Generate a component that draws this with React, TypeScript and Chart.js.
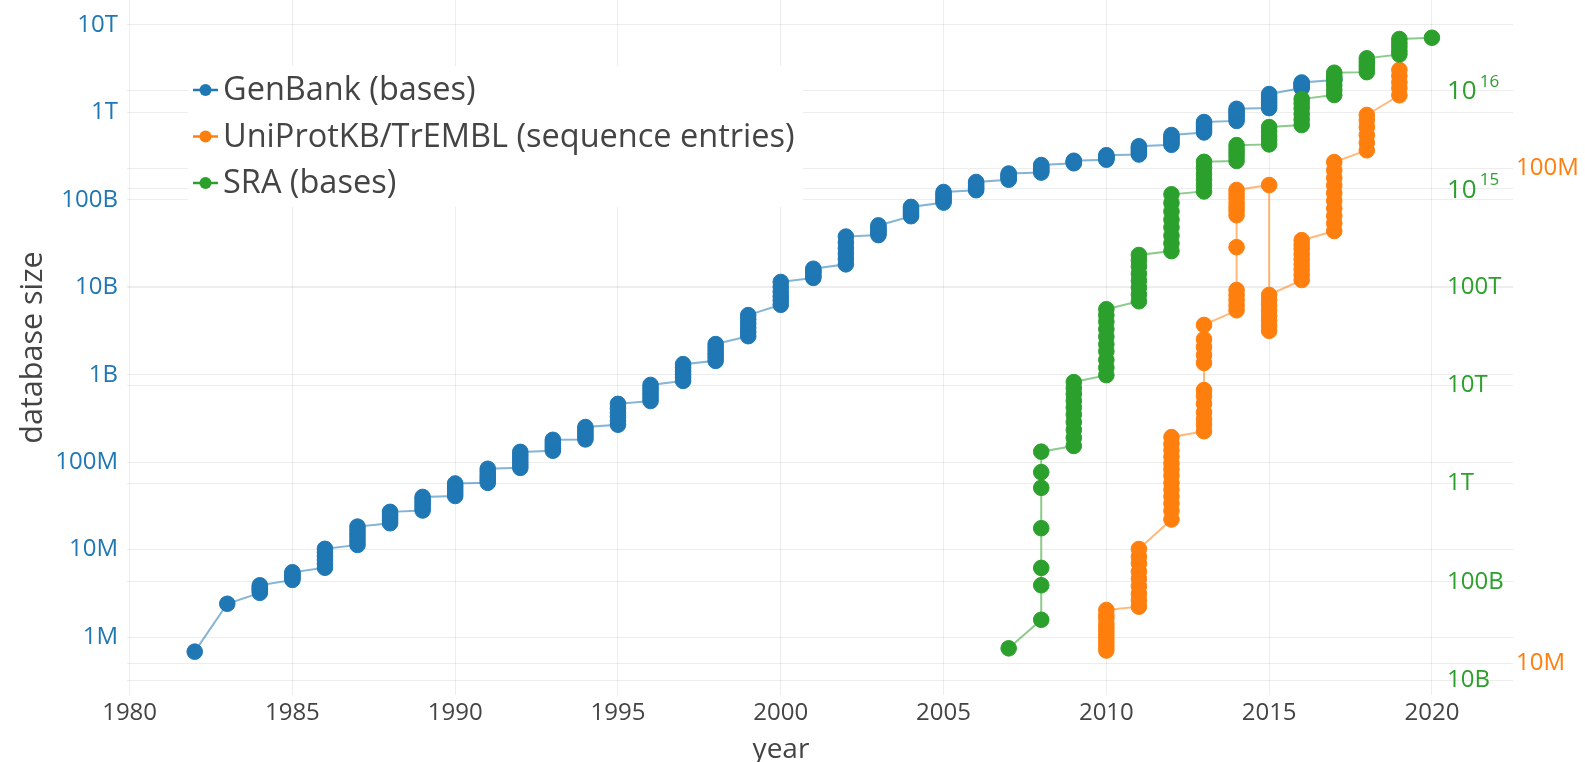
import React, { useEffect, useRef } from "react";
import { Chart, registerables } from "chart.js";

Chart.register(...registerables);

const FONT = "'Open Sans', 'DejaVu Sans', sans-serif";
const BLUE = "#1f77b4";
const ORANGE = "#ff7f0e";
const GREEN = "#2ca02c";
const TEXT = "#444444";
const GRID = "rgba(0,0,0,0.07)";

// ---- axis ticks ----
const xTickValues = [1980, 1985, 1990, 1995, 2000, 2005, 2010, 2015, 2020];
const genbankTickValues = [1e6, 1e7, 1e8, 1e9, 1e10, 1e11, 1e12, 1e13];
const genbankTickLabels = ["1M", "10M", "100M", "1B", "10B", "100B", "1T", "10T"];
const sraTickValues = [1e10, 1e11, 1e12, 1e13, 1e14, 1e15, 1e16];
const sraTickLabels = ["10B", "100B", "1T", "10T", "100T", "10^15", "10^16"];
const uniprotTickValues = [1e7, 1e8];
const uniprotTickLabels = ["10M", "100M"];

// ---- axis ranges ----
const X_MIN = 1979.92;
const X_MAX = 2022.49;
const GENBANK_MIN = 2.171e5;
const GENBANK_MAX = 1.931e13;
const SRA_MIN = 7.04e9;
const SRA_MAX = 8.23e16;
const UNIPROT_MIN = 8.62e6;
const UNIPROT_MAX = 2.185e8;

// ---- series ----
const seriesNames = ["GenBank (bases)", "UniProtKB/TrEMBL (sequence entries)", "SRA (bases)"];

const genbankYears = [
  1982, 1983, 1984, 1985, 1986, 1987, 1988, 1989, 1990, 1991, 1992, 1993,
  1994, 1995, 1996, 1997, 1998, 1999, 2000, 2001, 2002, 2003, 2004, 2005,
  2006, 2007, 2008, 2009, 2010, 2011, 2012, 2013, 2014, 2015, 2016, 2017,
];
const genbankValues = [
  [6.8e5],
  [2.4e6],
  [3.2e6, 3.35e6, 3.5e6, 3.6e6, 3.75e6, 3.9e6],
  [4.5e6, 4.7e6, 4.9e6, 5.1e6, 5.3e6, 5.5e6],
  [6.2e6, 6.9e6, 7.6e6, 8.4e6, 9.3e6, 10.2e6],
  [11.3e6, 12.4e6, 13.7e6, 15.1e6, 16.6e6, 18.3e6],
  [20e6, 21.3e6, 22.6e6, 24e6, 25.5e6, 27e6],
  [28e6, 30e6, 32.3e6, 34.8e6, 37.3e6, 40e6],
  [41e6, 43.8e6, 46.8e6, 50e6, 53.4e6, 57e6],
  [58e6, 62e6, 66.5e6, 71.5e6, 77.5e6, 84e6],
  [86e6, 93e6, 101e6, 110e6, 120e6, 131e6],
  [135e6, 143e6, 151e6, 160e6, 170e6, 180e6],
  [182e6, 195e6, 208e6, 222e6, 237e6, 252e6],
  [268e6, 297e6, 329e6, 366e6, 410e6, 464e6],
  [500e6, 545e6, 592e6, 645e6, 702e6, 764e6],
  [850e6, 930e6, 1010e6, 1100e6, 1210e6, 1320e6],
  [1.44e9, 1.58e9, 1.72e9, 1.88e9, 2.05e9, 2.24e9],
  [2.76e9, 3.08e9, 3.44e9, 3.85e9, 4.3e9, 4.8e9],
  [6.3e9, 7.1e9, 7.9e9, 8.9e9, 10.1e9, 11.5e9],
  [12.8e9, 13.4e9, 14.1e9, 14.9e9, 15.6e9, 16.3e9],
  [18.3e9, 21e9, 24.2e9, 28e9, 32.5e9, 38e9],
  [39.5e9, 41.5e9, 43.8e9, 46e9, 48.5e9, 51e9],
  [65e9, 68e9, 71.5e9, 75e9, 79e9, 83e9],
  [93e9, 98e9, 104e9, 110e9, 116e9, 123e9],
  [129e9, 134e9, 140e9, 146e9, 153e9, 160e9],
  [170e9, 176e9, 182e9, 188e9, 194e9, 200e9],
  [205e9, 213e9, 222e9, 231e9, 240e9, 250e9],
  [262e9, 268e9, 274e9, 280e9],
  [288e9, 295e9, 302e9, 309e9, 316e9, 324e9],
  [330e9, 345e9, 360e9, 376e9, 393e9, 410e9],
  [426e9, 450e9, 474e9, 498e9, 524e9, 552e9],
  [590e9, 625e9, 662e9, 700e9, 738e9, 776e9],
  [0.8e12, 0.86e12, 0.92e12, 0.98e12, 1.04e12, 1.1e12],
  [1.12e12, 1.21e12, 1.3e12, 1.4e12, 1.51e12, 1.62e12],
  [1.9e12, 1.96e12, 2.02e12, 2.08e12, 2.14e12, 2.2e12],
  [2.35e12, 2.45e12],
];

const uniprotYears = [2010, 2011, 2012, 2013, 2014, 2015, 2016, 2017, 2018, 2019];
const uniprotValues = [
  [10.6e6, 10.8e6, 11.0e6, 11.2e6, 11.4e6, 11.6e6, 11.8e6, 12.0e6, 12.3e6, 12.5e6, 12.8e6],
  [13.0e6, 13.4e6, 13.8e6, 14.3e6, 14.8e6, 15.3e6, 15.9e6, 16.4e6, 17.0e6],
  [19.5e6, 20.3e6, 21.0e6, 21.7e6, 22.4e6, 23.1e6, 23.9e6, 24.6e6, 25.3e6, 26.1e6, 26.9e6, 27.7e6, 28.6e6],
  [29.4e6, 30.3e6, 31.1e6, 32.1e6, 33.4e6, 34.6e6, 35.6e6, 40.4e6, 41.9e6, 43.5e6, 45.1e6, 48.2e6],
  [51.6e6, 52.8e6, 54.1e6, 55.4e6, 56.7e6, 69.2e6, 80.3e6, 82e6, 83.4e6, 85e6, 86.9e6, 88.6e6, 90.3e6],
  [92.4e6, 46.9e6, 48.0e6, 49.2e6, 50.3e6, 51.6e6, 52.9e6, 54.1e6, 55.4e6],
  [59.4e6, 60.8e6, 62.3e6, 63.8e6, 65.4e6, 67.0e6, 68.6e6, 70.0e6, 71.5e6],
  [74.6e6, 77.3e6, 80.0e6, 82.9e6, 85.9e6, 89.0e6, 92.2e6, 95.5e6, 99.0e6, 102.8e6],
  [108.6e6, 112.5e6, 116.6e6, 121e6, 125e6, 128e6],
  [140.3e6, 145e6, 149e6, 153.5e6, 157.8e6],
];

const sraYears = [2007, 2008, 2009, 2010, 2011, 2012, 2013, 2014, 2015, 2016, 2017, 2018, 2019, 2020];
const sraValues = [
  [2.1e10],
  [4.1e10, 9.2e10, 1.38e11, 3.5e11, 9.0e11, 1.3e12, 2.1e12],
  [2.4e12, 2.9e12, 3.5e12, 4.2e12, 5.0e12, 5.9e12, 6.9e12, 8.1e12, 9.3e12, 10.7e12],
  [1.26e13, 1.5e13, 1.8e13, 2.2e13, 2.6e13, 3.1e13, 3.7e13, 4.4e13, 5.1e13, 5.9e13],
  [7.1e13, 8.3e13, 9.8e13, 1.15e14, 1.35e14, 1.6e14, 1.85e14, 2.1e14],
  [2.3e14, 2.75e14, 3.3e14, 4.0e14, 4.8e14, 5.8e14, 7.1e14, 8.7e14],
  [9.3e14, 1.07e15, 1.22e15, 1.4e15, 1.62e15, 1.86e15],
  [1.9e15, 2.1e15, 2.3e15, 2.5e15, 2.75e15],
  [2.8e15, 3.1e15, 3.4e15, 3.8e15, 4.2e15],
  [4.4e15, 5.0e15, 5.7e15, 6.5e15, 7.3e15, 8.1e15],
  [8.9e15, 1.0e16, 1.12e16, 1.25e16, 1.38e16, 1.5e16],
  [1.52e16, 1.65e16, 1.78e16, 1.93e16, 2.1e16],
  [2.3e16, 2.5e16, 2.75e16, 3.0e16, 3.3e16],
  [3.4e16],
];

function buildPoints(years: number[], values: number[][]) {
  const pts: { x: number; y: number }[] = [];
  years.forEach((yr, i) => {
    values[i].forEach((v) => pts.push({ x: yr, y: v }));
  });
  return pts;
}

function fade(hex: string, a: number) {
  const n = parseInt(hex.slice(1), 16);
  return `rgba(${(n >> 16) & 255},${(n >> 8) & 255},${n & 255},${a})`;
}

const seriesColors = [BLUE, ORANGE, GREEN];

const overlayPlugin = {
  id: "overlay",
  afterDraw(chart: any) {
    const ctx: CanvasRenderingContext2D = chart.ctx;
    const sra = chart.scales.ySra;
    ctx.save();
    // SRA axis labels (drawn inside the plot, left-aligned)
    ctx.fillStyle = GREEN;
    ctx.textAlign = "left";
    ctx.textBaseline = "middle";
    const labelX = chart.chartArea.right - 66;
    sraTickValues.forEach((v, i) => {
      const y = sra.getPixelForValue(v);
      const label = sraTickLabels[i];
      if (label.includes("^")) {
        const [base, exp] = label.split("^");
        ctx.font = `26px ${FONT}`;
        ctx.fillText(base, labelX, y + 2);
        const w = ctx.measureText(base).width;
        ctx.font = `17px ${FONT}`;
        ctx.fillText(exp, labelX + w + 3, y - 8);
      } else {
        ctx.font = `24px ${FONT}`;
        ctx.fillText(label, labelX, y);
      }
    });

    // legend
    const lx = 193;
    const ly = 90;
    const step = 46.5;
    ctx.fillStyle = "#ffffff";
    ctx.fillRect(lx - 5, ly - 24, 615, step * 2 + 48);
    seriesNames.forEach((name, i) => {
      const y = ly + i * step;
      const c = seriesColors[i];
      ctx.strokeStyle = c;
      ctx.lineWidth = 2.5;
      ctx.beginPath();
      ctx.moveTo(lx, y);
      ctx.lineTo(lx + 25, y);
      ctx.stroke();
      ctx.fillStyle = c;
      ctx.beginPath();
      ctx.arc(lx + 12.5, y, 6, 0, Math.PI * 2);
      ctx.fill();
      ctx.fillStyle = TEXT;
      ctx.font = `32.5px ${FONT}`;
      ctx.textAlign = "left";
      ctx.textBaseline = "middle";
      ctx.fillText(name, lx + 30, y + 1);
    });

    // x axis title
    ctx.fillStyle = TEXT;
    ctx.font = `28px ${FONT}`;
    ctx.textAlign = "center";
    ctx.textBaseline = "middle";
    ctx.fillText("year", 781, 750);
    ctx.restore();
  },
};

function ticksFrom(values: number[]) {
  return (scale: any) => {
    scale.ticks = values.map((value) => ({ value }));
  };
}

export default function App() {
  const ref = useRef<HTMLCanvasElement>(null);

  useEffect(() => {
    document.body.style.margin = "0";
    const canvas = ref.current;
    if (!canvas) return;

    const mk = (label: string, data: any[], color: string, axis: string, order: number) => ({
      label,
      data,
      yAxisID: axis,
      order,
      borderColor: fade(color, 0.55),
      borderWidth: 2,
      backgroundColor: color,
      pointBackgroundColor: color,
      pointBorderColor: color,
      pointBorderWidth: 1,
      pointRadius: 7.8,
      pointHoverRadius: 7.8,
      tension: 0,
      fill: false,
    });

    const chart = new Chart(canvas, {
      type: "line",
      data: {
        datasets: [
          mk(seriesNames[0], buildPoints(genbankYears, genbankValues), BLUE, "yGen", 3),
          mk(seriesNames[1], buildPoints(uniprotYears, uniprotValues), ORANGE, "yUni", 2),
          mk(seriesNames[2], buildPoints(sraYears, sraValues), GREEN, "ySra", 1),
        ],
      },
      options: {
        responsive: false,
        animation: false,
        layout: { autoPadding: false, padding: 0 },
        plugins: { legend: { display: false }, tooltip: { enabled: false } },
        font: { family: FONT },
        scales: {
          x: {
            type: "linear",
            position: "bottom",
            min: X_MIN,
            max: X_MAX,
            afterBuildTicks: ticksFrom(xTickValues),
            afterFit: (s: any) => {
              s.height = 67;
              s.paddingLeft = 0;
              s.paddingRight = 0;
            },
            ticks: {
              color: TEXT,
              font: { family: FONT, size: 24 },
              padding: 4,
              maxRotation: 0,
              autoSkip: false,
              callback: (v: any) => String(v),
            },
            grid: { color: GRID, drawTicks: false },
            border: { display: false },
          },
          yGen: {
            type: "logarithmic",
            position: "left",
            min: GENBANK_MIN,
            max: GENBANK_MAX,
            afterBuildTicks: ticksFrom(genbankTickValues),
            afterFit: (s: any) => {
              s.width = 127;
              s.paddingTop = 0;
              s.paddingBottom = 0;
            },
            ticks: {
              color: BLUE,
              font: { family: FONT, size: 24 },
              padding: 9,
              autoSkip: false,
              callback: (_v: any, i: number) => genbankTickLabels[i],
            },
            grid: { color: GRID, drawTicks: false },
            border: { display: false },
            title: {
              display: true,
              text: "database size",
              color: TEXT,
              font: { family: FONT, size: 30.5 },
              padding: { top: 15, bottom: 0 },
            },
          },
          ySra: {
            type: "logarithmic",
            position: "right",
            min: SRA_MIN,
            max: SRA_MAX,
            afterBuildTicks: ticksFrom(sraTickValues),
            afterFit: (s: any) => {
              s.width = 0;
              s.paddingTop = 0;
              s.paddingBottom = 0;
            },
            ticks: { display: false },
            grid: { color: GRID, drawTicks: false },
            border: { display: false },
          },
          yUni: {
            type: "logarithmic",
            position: "right",
            min: UNIPROT_MIN,
            max: UNIPROT_MAX,
            afterBuildTicks: ticksFrom(uniprotTickValues),
            afterFit: (s: any) => {
              s.width = 72;
              s.paddingTop = 0;
              s.paddingBottom = 0;
            },
            ticks: {
              color: ORANGE,
              font: { family: FONT, size: 24 },
              padding: 3,
              autoSkip: false,
              callback: (_v: any, i: number) => uniprotTickLabels[i],
            },
            grid: { color: GRID, drawTicks: false },
            border: { display: false },
          },
        },
      } as any,
      plugins: [overlayPlugin],
    });

    return () => chart.destroy();
  }, []);

  return (
    <div style={{ width: 1585, height: 762 }}>
      <canvas ref={ref} width={1585} height={762} style={{ display: "block" }} />
    </div>
  );
}
